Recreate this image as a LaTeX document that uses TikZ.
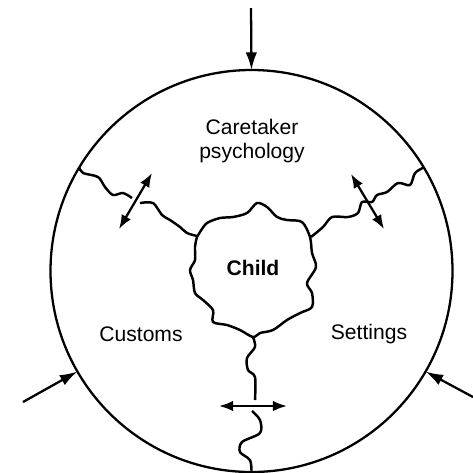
\documentclass[tikz,border=0pt]{standalone}
\usepackage{fontspec}
\setmainfont{Liberation Sans}
\usetikzlibrary{arrows.meta}

\tikzset{
  rim/.style={circle, draw, line width=1.3pt, inner sep=0pt, outer sep=0pt, minimum size=80.4mm},
  border/.style={line width=1.4pt, line join=round},
  inflow/.style={line width=1.3pt, -{Latex[length=10pt,width=6.5pt]}},
  exchange/.style={line width=1.3pt, {Latex[length=8pt,width=6pt]}-{Latex[length=8pt,width=6pt]}},
  area/.style={font=\fontsize{12}{13.6}\selectfont, align=center},
}

\begin{document}
\begin{tikzpicture}[x=0.2mm, y=-0.2mm]
    \useasboundingbox (0,0) rectangle (473,472);
    \node[rim] (world) at (251.5,271) {};

    % outside influences
    \coordinate (top) at (251,8);
    \coordinate (lowleft) at (23,402);
    \coordinate (lowright) at (473,397);
    \draw[inflow] (top) -- (world.90);
    \draw[inflow] (lowleft) -- (world.210);
    \draw[inflow] (lowright) -- (world.330);

    % the child
    \draw[border] plot[smooth cycle] coordinates {
        (200,232) (207,223) (220,218) (233,217) (247,213) (257,203)
        (267,207) (277,217) (287,220) (302,222) (310,237) (312,253)
        (316,267) (307,283) (312,293) (312,307) (300,313) (287,320)
        (273,330) (260,333) (253,337) (240,330) (227,325) (213,322)
        (213,310) (203,300) (195,293) (193,280) (190,270) (195,260)
        (195,247) (197,237)};
    \node[area, font=\fontsize{12}{13.6}\selectfont\bfseries] (child) at (253,268) {Child};

    % borders between the three parts
    \draw[border] plot[smooth] coordinates {
        (world.149) (83,173) (98,177) (105,187) (113,195) (123,193) (132,198)};
    \draw[border] plot[smooth] coordinates {
        (140,203) (153,203) (162,215) (170,220) (180,227) (187,233) (197,236)};
    \draw[border] plot[smooth] coordinates {
        (world.31) (415,173) (410,185) (398,183) (387,192) (377,195)
        (372,202) (362,202) (358,213) (348,217) (332,217) (323,227) (311,237)};
    \draw[border] plot[smooth] coordinates {
        (253,337) (255,347) (247,358) (248,370) (255,377) (255,400)};
    \draw[border] plot[smooth] coordinates {
        (252,411) (260,420) (260,433) (242,442) (240,452) (250,460) (world.270)};

    % exchanges
    \coordinate (cl1) at (119,229);
    \coordinate (cl2) at (152,173);
    \coordinate (cr1) at (351,174);
    \coordinate (cr2) at (384,229);
    \coordinate (cb1) at (219,406);
    \coordinate (cb2) at (287,406);
    \draw[exchange] (cl1) -- (cl2);
    \draw[exchange] (cr1) -- (cr2);
    \draw[exchange] (cb1) -- (cb2);

    \node[area] (care) at (252,141) {Caretaker\\psychology};
    \node[area] (cust) at (141,334) {Customs};
    \node[area] (sett) at (369,334) {Settings};
\end{tikzpicture}
\end{document}
